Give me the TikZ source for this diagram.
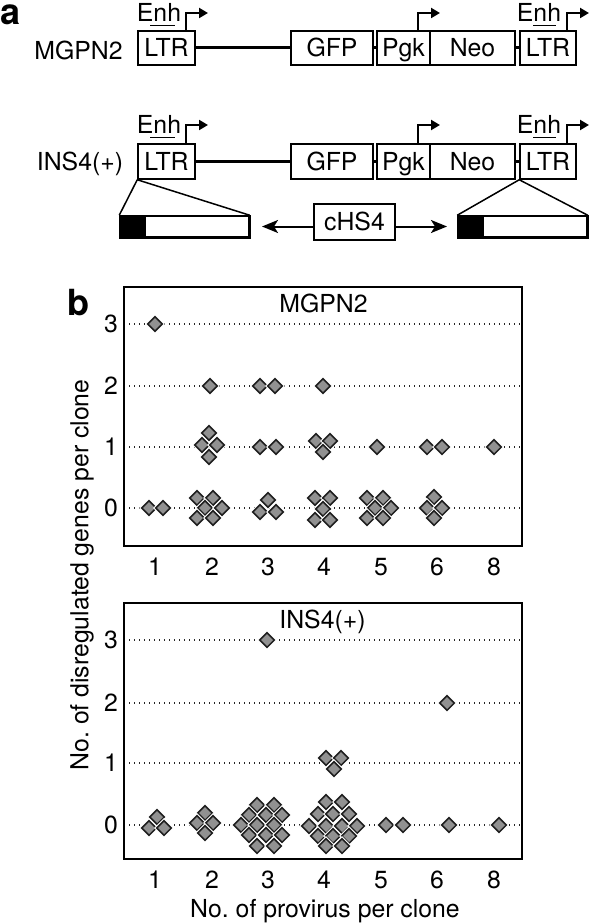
\documentclass[tikz,border=0pt]{standalone}
\usepackage{fontspec}
\setmainfont{TeX Gyre Heros}
\usetikzlibrary{arrows.meta,shapes.geometric}
\newcommand\myfs{\fontsize{24.8}{30}\selectfont\frenchspacing}
\definecolor{dmfill}{RGB}{145,145,145}
\definecolor{dmline}{RGB}{30,30,30}
\begin{document}
\begin{tikzpicture}[x=1pt,y=-1pt,
  txt/.style={inner sep=0pt,font=\myfs},
  gbox/.style={draw,line width=1.5pt,inner sep=0pt,font=\myfs,text height=17.8pt,text depth=0pt,minimum height=34pt},
  sbox/.style={draw,line width=1.5pt,inner sep=0pt,minimum height=21pt,minimum width=129pt},
  thickline/.style={line width=3pt},
  prom/.style={line width=2pt,-{Triangle[length=9pt,width=10pt]}},
  harrow/.style={line width=2pt,-{Stealth[length=16pt,width=13pt,inset=4pt]}},
  gridl/.style={line width=1.3pt,black!85,dash pattern=on 1.3pt off 3.7pt},
  frame/.style={line width=2pt},
  ytick/.style={txt,anchor=east,text height=17.5pt,text depth=0pt},
  dm/.pic={
    \draw[white,line width=3.6pt] (-7.3,0)--(0,7.3)--(7.3,0)--(0,-7.3)--cycle;
    \draw[fill=dmfill,draw=dmline,line width=1.5pt] (-7.3,0)--(0,7.3)--(7.3,0)--(0,-7.3)--cycle;
  }]
\useasboundingbox (0,0) rectangle (589,923);

% ---------- panel a ----------
\node[inner sep=0pt,font=\bfseries\fontsize{36}{40}\selectfont,anchor=base west] (la) at (0,24.5) {a};

% row 1
\node[txt,anchor=base] (lblM) at (78.5,60) {MGPN2};
\node[gbox,minimum width=57pt] (ltrA1) at (166.5,48) {LTR};
\node[gbox,minimum width=82pt] (gfp1) at (332,48) {GFP};
\node[gbox,minimum width=53pt] (pgk1) at (403.5,48) {Pgk};
\node[gbox,minimum width=85pt] (neo1) at (472.5,48) {Neo};
\node[gbox,minimum width=56pt] (ltrB1) at (548,48) {LTR};
\draw[thickline] (ltrA1.east) -- (gfp1.west);
\draw[thickline] (gfp1.east) -- (pgk1.west);
\draw[thickline] (neo1.east) -- (ltrB1.west);
\node[txt,anchor=base] (enhA1) at (159,22) {Enh};
\node[txt,anchor=base] (enhB1) at (539,22) {Enh};
\draw[line width=1.3pt] (150,25.5) -- (175,25.5);
\draw[line width=1.3pt] (533,25.5) -- (556,25.5);
\coordinate (pA1) at (186,13); \coordinate (tA1) at (208,13);
\coordinate (pP1) at (418,13); \coordinate (tP1) at (440,13);
\coordinate (pB1) at (567,13); \coordinate (tB1) at (589,13);
\draw[prom] (pA1 |- ltrA1.north) |- (tA1);
\draw[prom] (pP1 |- pgk1.north) |- (tP1);
\draw[prom] (pB1 |- ltrB1.north) |- (tB1);

% row 2
\node[txt,anchor=base] (lblI) at (80,170) {INS4(+)};
\node[gbox,minimum width=57pt,minimum height=35pt] (ltrA2) at (166.5,161.5) {LTR};
\node[gbox,minimum width=82pt,minimum height=35pt] (gfp2) at (332,161.5) {GFP};
\node[gbox,minimum width=53pt,minimum height=35pt] (pgk2) at (403.5,161.5) {Pgk};
\node[gbox,minimum width=85pt,minimum height=35pt] (neo2) at (472.5,161.5) {Neo};
\node[gbox,minimum width=56pt,minimum height=35pt] (ltrB2) at (548,161.5) {LTR};
\draw[thickline] (ltrA2.east) -- (gfp2.west);
\draw[thickline] (gfp2.east) -- (pgk2.west);
\draw[thickline] (neo2.east) -- (ltrB2.west);
\node[txt,anchor=base] (enhA2) at (159,134) {Enh};
\node[txt,anchor=base] (enhB2) at (539,134) {Enh};
\draw[line width=1.3pt] (150,137.5) -- (175,137.5);
\draw[line width=1.3pt] (533,137.5) -- (556,137.5);
\coordinate (pA2) at (186,125); \coordinate (tA2) at (208,125);
\coordinate (pP2) at (418,125); \coordinate (tP2) at (440,125);
\coordinate (pB2) at (567,125); \coordinate (tB2) at (589,125);
\draw[prom] (pA2 |- ltrA2.north) |- (tA2);
\draw[prom] (pP2 |- pgk2.north) |- (tP2);
\draw[prom] (pB2 |- ltrB2.north) |- (tB2);

% expansions
\node[sbox] (exL) at (184.5,226.5) {};
\fill (exL.north west) rectangle ++(27,21);
\draw[line width=1.5pt] (exL.north west) rectangle (exL.south east);
\node[sbox] (exR) at (522.5,226.5) {};
\fill (exR.north west) rectangle ++(27,21);
\draw[line width=1.5pt] (exR.north west) rectangle (exR.south east);
\draw[line width=1.5pt] (ltrA2.south west) -- (exL.north west);
\draw[line width=1.5pt] (ltrA2.south west) -- (exL.north east);
\draw[line width=1.5pt] (ltrB2.south west) -- (exR.north west);
\draw[line width=1.5pt] (ltrB2.south west) -- (exR.north east);
\node[gbox,minimum width=81pt,minimum height=36pt] (chs) at (354.5,222) {cHS4};
\coordinate (tipL) at (262,226.5);
\coordinate (tipR) at (447,226.5);
\draw[harrow] (chs.west |- tipL) -- (tipL);
\draw[harrow] (chs.east |- tipR) -- (tipR);

% ---------- panel b ----------
\node[inner sep=0pt,font=\bfseries\fontsize{36}{40}\selectfont,anchor=base west] (lb) at (67,315) {b};

% upper plot
\foreach \y in {324,386,447,508} \draw[gridl] (124,\y) -- (522,\y);
\foreach \x/\y in {155/324,
  210/386, 260/386, 275/386, 323/386,
  209/433, 202/445, 217/445, 209/457, 260/447, 276/447,
  316/441, 330/441, 323/452, 377/447, 427/447, 442/447, 494/447,
  149/508, 163/508,
  197/498, 213/498, 205/508, 222/508, 197/518, 213/518,
  268/500, 260/512, 276/512,
  315/498, 330/498, 323/509, 315/520, 330/520,
  367/498, 383/498, 375/508, 391/508, 367/518, 383/518,
  434/497, 427/508, 442/508, 434/518}
  \pic at (\x,\y) {dm};
\draw[frame] (124,287) rectangle (522,546);
\node[txt,anchor=base] (tU) at (323.5,312) {MGPN2};
\foreach \l/\y in {3/324,2/386,1/447,0/508}
  \node[ytick] (yu\l) at (118,\y) {\l};
\foreach \l/\x in {1/155,2/212,3/268,4/324,5/381,6/437,8/494}
  \node[txt,anchor=base] (xu\l) at (\x,575) {\l};

% lower plot
\foreach \y in {640,703,763,825} \draw[gridl] (124,\y) -- (522,\y);
\foreach \x/\y in {267/640, 447/703,
  326/758, 341/758, 334/769,
  149/828, 157/817, 164/828,
  205/813, 197/823, 213/823, 205/833,
  257/805, 274/805, 249/815, 266/815, 282/815,
  241/825, 257/825, 274/825, 249/835, 266/835, 282/835, 257/846, 274/846,
  326/802, 342/802, 318/814, 333/814, 349/814,
  309/826, 326/826, 342/826, 357/826,
  318/836, 333/836, 349/836, 326/846, 342/846,
  386/825, 403/825, 449/825, 499/825}
  \pic at (\x,\y) {dm};
\draw[frame] (124,603) rectangle (522,859);
\node[txt,anchor=base] (tL) at (322.5,628) {INS4(+)};
\foreach \l/\y in {3/640,2/703,1/763,0/825}
  \node[ytick] (yl\l) at (118,\y) {\l};
\foreach \l/\x in {1/155,2/212,3/268,4/324,5/381,6/437,8/494}
  \node[txt,anchor=base] (xl\l) at (\x,888) {\l};

% axis labels
\node[txt,rotate=90] (ylab) at (82,575) {No. of disregulated genes per clone};
\node[txt,anchor=base] (xlab) at (325,917) {No. of provirus per clone};
\end{tikzpicture}
\end{document}
